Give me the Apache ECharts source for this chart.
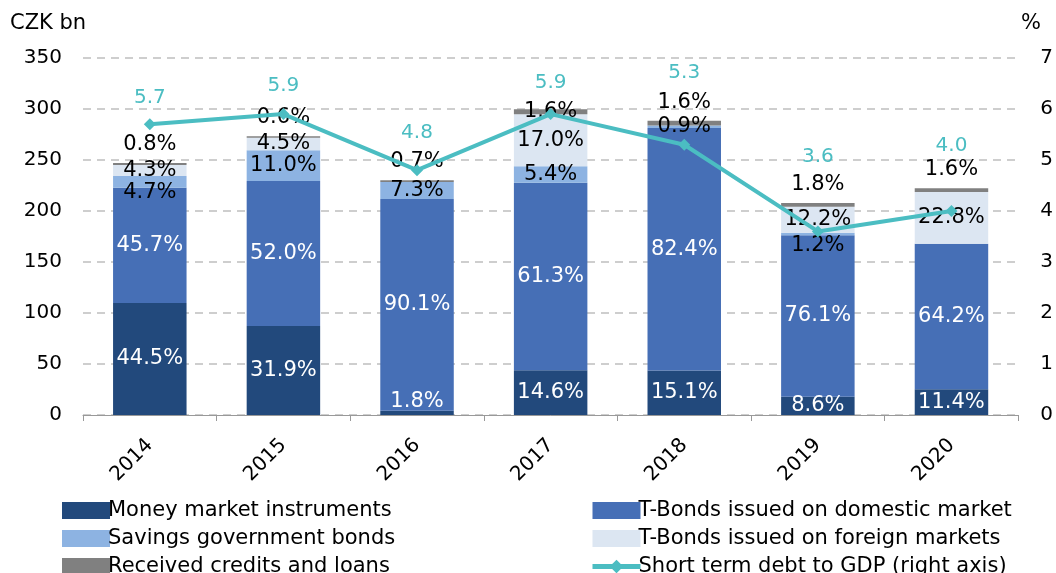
<!DOCTYPE html>
<html>
<head>
<meta charset="utf-8">
<script src="https://cdn.jsdelivr.net/npm/echarts@6/dist/echarts.min.js"></script>
<style>
  html, body { margin: 0; padding: 0; background: #fff; }
  #chart { width: 1056px; height: 573px; }
</style>
</head>
<body>
<div id="chart"></div>
<script>
// data (CZK bn, shares in % of each year's total)
const years = ['2014', '2015', '2016', '2017', '2018', '2019', '2020'];

const moneyMarket = [109.9, 87.2, 4.1, 43.8, 43.6, 17.9, 25.3];
const bondsDomestic = [112.9, 142.2, 207.6, 183.9, 237.7, 158.3, 142.7];
const savingsBonds = [11.6, 30.1, 16.8, 16.2, 2.6, 2.5, 0];
const bondsForeign = [10.6, 12.3, 0, 51.0, 0, 25.4, 50.7];
const creditsLoans = [2.0, 1.6, 1.6, 4.8, 4.6, 3.7, 3.6];

const moneyMarketPct = [44.5, 31.9, 1.8, 14.6, 15.1, 8.6, 11.4];
const bondsDomesticPct = [45.7, 52.0, 90.1, 61.3, 82.4, 76.1, 64.2];
const savingsBondsPct = [4.7, 11.0, 7.3, 5.4, 0.9, 1.2, null];
const bondsForeignPct = [4.3, 4.5, null, 17.0, null, 12.2, 22.8];
const creditsLoansPct = [0.8, 0.6, 0.7, 1.6, 1.6, 1.8, 1.6];

const shortDebtToGdp = [5.7, 5.9, 4.8, 5.9, 5.3, 3.6, 4.0];

const leftTicks = { min: 0, max: 350, interval: 50 };
const rightTicks = { min: 0, max: 7, interval: 1 };

const FONT = 'DejaVu Sans';

// label tweaks, by year index
const labelShift = {
  mm: { 2: [0, -11] },
  sgb: { 0: [0, 11], 5: [0, 12] },
  rcInside: { 3: true },
  line: [-6, -7, -16, -10, -51, -54, -44]
};

function barData(values, pcts, color, opts) {
  opts = opts || {};
  return values.map((v, i) => {
    const item = { value: v };
    const pct = pcts[i];
    if (pct == null) {
      item.label = { show: false };
      return item;
    }
    const lab = {
      show: true,
      formatter: pct.toFixed(1) + '%',
      color: color,
      fontFamily: FONT,
      fontSize: 21,
      position: 'inside'
    };
    if (opts.top && !(opts.insideIdx && opts.insideIdx[i])) {
      lab.position = 'top';
      lab.distance = 8;
    }
    if (opts.shift && opts.shift[i]) lab.offset = opts.shift[i];
    item.label = lab;
    return item;
  });
}

const chart = echarts.init(document.getElementById('chart'));

const barCommon = {
  type: 'bar',
  stack: 'debt',
  barWidth: '55%',
  yAxisIndex: 0
};

const legendCommon = {
  orient: 'vertical', top: 495, height: 90, itemGap: 7,
  itemWidth: 48, itemHeight: 17,
  textStyle: { fontFamily: FONT, fontSize: 21, color: '#000', padding: [0, 0, 0, -7] }
};

const option = {
  animation: false,
  textStyle: { fontFamily: FONT },
  grid: { left: 83, right: 36, top: 58, bottom: 158 },
  graphic: [
    { type: 'text', left: 10, top: 13, style: { text: 'CZK bn', font: '21px ' + FONT, fill: '#000' } },
    { type: 'text', right: 15, top: 13, style: { text: '%', font: '21px ' + FONT, fill: '#000' } }
  ],
  legend: [
    Object.assign({}, legendCommon, {
      left: 57,
      data: [
        { name: 'Money market instruments', icon: 'rect' },
        { name: 'Savings government bonds', icon: 'rect' },
        { name: 'Received credits and loans', icon: 'rect' }
      ]
    }),
    Object.assign({}, legendCommon, {
      left: 585,
      data: [
        { name: 'T-Bonds issued on domestic market', icon: 'rect' },
        { name: 'T-Bonds issued on foreign markets', icon: 'rect' },
        { name: 'Short term debt to GDP (right axis)', lineStyle: { width: 5 } }
      ]
    })
  ],
  xAxis: {
    type: 'category',
    data: years,
    axisLine: { lineStyle: { color: '#999', width: 1 } },
    axisTick: { show: true, length: 6, lineStyle: { color: '#999' } },
    axisLabel: { rotate: 45, fontSize: 20, color: '#000', fontFamily: FONT, margin: 27 }
  },
  yAxis: [
    {
      type: 'value',
      min: leftTicks.min, max: leftTicks.max, interval: leftTicks.interval,
      axisLine: { show: false },
      axisTick: { show: false },
      axisLabel: { fontSize: 20, color: '#000', fontFamily: FONT, margin: 21 },
      splitLine: { lineStyle: { color: '#BFBFBF', type: [8, 6], width: 1.5 } }
    },
    {
      type: 'value',
      min: rightTicks.min, max: rightTicks.max, interval: rightTicks.interval,
      axisLine: { show: false },
      axisTick: { show: false },
      axisLabel: { fontSize: 20, color: '#000', fontFamily: FONT, margin: 22 },
      splitLine: { show: false }
    }
  ],
  series: [
    Object.assign({}, barCommon, {
      name: 'Money market instruments',
      itemStyle: { color: '#22497C' },
      data: barData(moneyMarket, moneyMarketPct, '#fff', { shift: labelShift.mm })
    }),
    Object.assign({}, barCommon, {
      name: 'T-Bonds issued on domestic market',
      itemStyle: { color: '#466FB6' },
      data: barData(bondsDomestic, bondsDomesticPct, '#fff')
    }),
    Object.assign({}, barCommon, {
      name: 'Savings government bonds',
      itemStyle: { color: '#8DB3E2' },
      data: barData(savingsBonds, savingsBondsPct, '#000', { shift: labelShift.sgb })
    }),
    Object.assign({}, barCommon, {
      name: 'T-Bonds issued on foreign markets',
      itemStyle: { color: '#DCE6F2' },
      data: barData(bondsForeign, bondsForeignPct, '#000')
    }),
    Object.assign({}, barCommon, {
      name: 'Received credits and loans',
      itemStyle: { color: '#808080' },
      data: barData(creditsLoans, creditsLoansPct, '#000', { top: true, insideIdx: labelShift.rcInside })
    }),
    {
      name: 'Short term debt to GDP (right axis)',
      type: 'line',
      yAxisIndex: 1,
      z: 10,
      symbol: 'diamond',
      symbolSize: 12,
      lineStyle: { color: '#4BBDC2', width: 4 },
      itemStyle: { color: '#4BBDC2' },
      data: shortDebtToGdp.map((v, i) => ({
        value: v,
        label: {
          show: true,
          position: 'top',
          distance: 5,
          offset: [0, labelShift.line[i]],
          formatter: v.toFixed(1),
          color: '#4BBDC2',
          fontFamily: FONT,
          fontSize: 20
        }
      }))
    }
  ]
};

chart.setOption(option);
</script>
</body>
</html>
